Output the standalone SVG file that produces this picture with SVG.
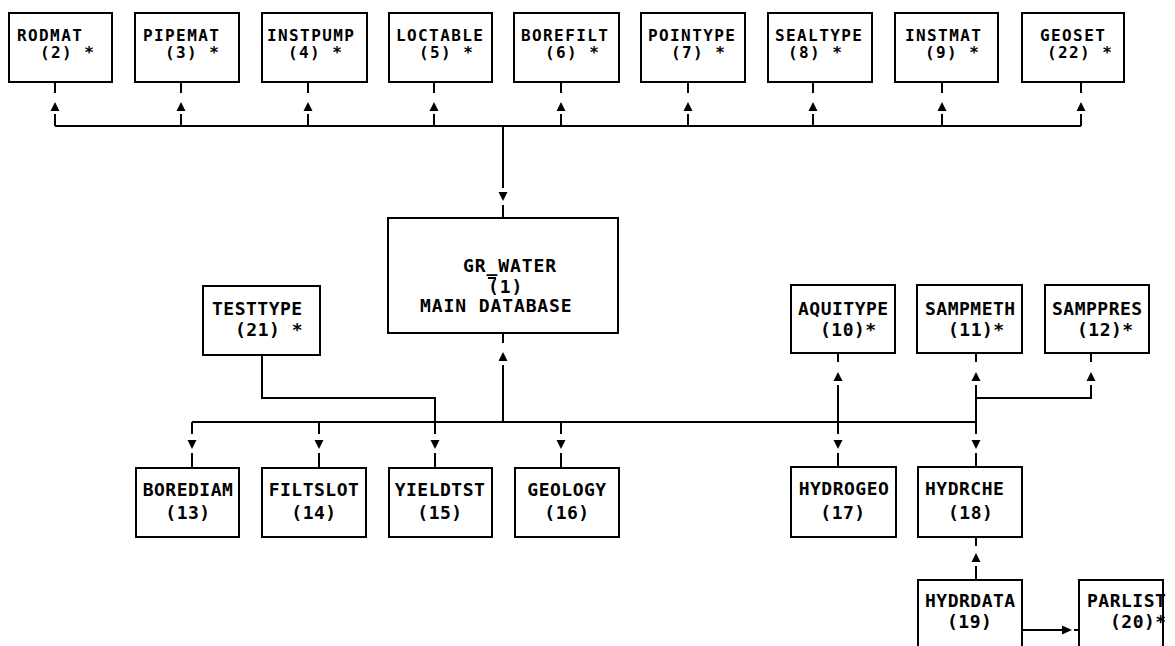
<svg xmlns="http://www.w3.org/2000/svg" width="1175" height="646" viewBox="0 0 1175 646">
<style>
rect{fill:#fff;stroke:#000;stroke-width:2}
.c line,.c polyline{stroke:#000;stroke-width:2;fill:none}
text{font-family:"DejaVu Sans Mono","Liberation Mono",monospace;font-weight:bold;fill:#000}
.t{font-size:16px;letter-spacing:1.4px}
.b{font-size:18px;letter-spacing:0.5px}
.m{font-size:18px;letter-spacing:0.9px}
.mid{text-anchor:middle}
</style>
<defs>
<path id="tu" d="M0,0 L-4.5,9 L4.5,9 Z" fill="#000"/>
<path id="td" d="M0,0 L-4.5,-9 L4.5,-9 Z" fill="#000"/>
<path id="tr" d="M0,0 L-10,-4.5 L-10,4.5 Z" fill="#000"/>
</defs>
<rect x="0" y="0" width="1175" height="646" style="fill:#fff;stroke:none"/>
<g class="c" id="connectors">
<line x1="55" y1="126" x2="1081" y2="126"/>
<line x1="55" y1="82" x2="55" y2="93"/><use href="#tu" x="55" y="102"/><line x1="55" y1="114" x2="55" y2="126"/>
<line x1="181" y1="82" x2="181" y2="93"/><use href="#tu" x="181" y="102"/><line x1="181" y1="114" x2="181" y2="126"/>
<line x1="308" y1="82" x2="308" y2="93"/><use href="#tu" x="308" y="102"/><line x1="308" y1="114" x2="308" y2="126"/>
<line x1="434" y1="82" x2="434" y2="93"/><use href="#tu" x="434" y="102"/><line x1="434" y1="114" x2="434" y2="126"/>
<line x1="561" y1="82" x2="561" y2="93"/><use href="#tu" x="561" y="102"/><line x1="561" y1="114" x2="561" y2="126"/>
<line x1="688" y1="82" x2="688" y2="93"/><use href="#tu" x="688" y="102"/><line x1="688" y1="114" x2="688" y2="126"/>
<line x1="813" y1="82" x2="813" y2="93"/><use href="#tu" x="813" y="102"/><line x1="813" y1="114" x2="813" y2="126"/>
<line x1="942" y1="82" x2="942" y2="93"/><use href="#tu" x="942" y="102"/><line x1="942" y1="114" x2="942" y2="126"/>
<line x1="1081" y1="82" x2="1081" y2="93"/><use href="#tu" x="1081" y="102"/><line x1="1081" y1="114" x2="1081" y2="126"/>
<line x1="503" y1="126" x2="503" y2="188"/><use href="#td" x="503" y="201"/><line x1="503" y1="205" x2="503" y2="218"/>
<line x1="503" y1="333" x2="503" y2="343"/><use href="#tu" x="503" y="352"/><line x1="503" y1="365" x2="503" y2="422"/>
<line x1="192" y1="422" x2="976" y2="422"/>
<polyline points="262,355 262,398 435,398 435,422"/>
<line x1="192" y1="422" x2="192" y2="434"/><use href="#td" x="192" y="449"/><line x1="192" y1="453" x2="192" y2="468"/>
<line x1="319" y1="422" x2="319" y2="434"/><use href="#td" x="319" y="449"/><line x1="319" y1="453" x2="319" y2="468"/>
<line x1="435" y1="422" x2="435" y2="434"/><use href="#td" x="435" y="449"/><line x1="435" y1="453" x2="435" y2="468"/>
<line x1="561" y1="422" x2="561" y2="434"/><use href="#td" x="561" y="449"/><line x1="561" y1="453" x2="561" y2="468"/>
<line x1="838" y1="422" x2="838" y2="434"/><use href="#td" x="838" y="449"/><line x1="838" y1="453" x2="838" y2="467"/>
<line x1="976" y1="422" x2="976" y2="434"/><use href="#td" x="976" y="449"/><line x1="976" y1="453" x2="976" y2="467"/>
<line x1="838" y1="353" x2="838" y2="362"/><use href="#tu" x="838" y="372"/><line x1="838" y1="385" x2="838" y2="422"/>
<line x1="976" y1="353" x2="976" y2="362"/><use href="#tu" x="976" y="372"/><line x1="976" y1="385" x2="976" y2="422"/>
<line x1="1091" y1="353" x2="1091" y2="362"/><use href="#tu" x="1091" y="372"/><polyline points="1091,385 1091,398 976,398"/>
<line x1="976" y1="537" x2="976" y2="546"/><use href="#tu" x="976" y="553"/><line x1="976" y1="566" x2="976" y2="580"/>
<line x1="1022" y1="630" x2="1063" y2="630"/><use href="#tr" x="1072" y="630"/><line x1="1074" y1="630" x2="1079" y2="630"/>
</g>
<g id="rodmat"><rect x="9" y="13" width="103" height="69"/><text class="t" x="17" y="41">RODMAT</text><text class="t" x="40" y="58">(2) *</text></g>
<g id="pipemat"><rect x="135" y="13" width="104" height="69"/><text class="t" x="143" y="41">PIPEMAT</text><text class="t" x="165" y="58">(3) *</text></g>
<g id="instpump"><rect x="262" y="13" width="105" height="69"/><text class="t" x="267" y="41">INSTPUMP</text><text class="t" x="288" y="58">(4) *</text></g>
<g id="loctable"><rect x="389" y="13" width="103" height="69"/><text class="t" x="396" y="41">LOCTABLE</text><text class="t" x="419" y="58">(5) *</text></g>
<g id="borefilt"><rect x="514" y="13" width="105" height="69"/><text class="t" x="521" y="41">BOREFILT</text><text class="t" x="545" y="58">(6) *</text></g>
<g id="pointype"><rect x="641" y="13" width="104" height="69"/><text class="t" x="648" y="41">POINTYPE</text><text class="t" x="671" y="58">(7) *</text></g>
<g id="sealtype"><rect x="768" y="13" width="104" height="69"/><text class="t" x="775" y="41">SEALTYPE</text><text class="t" x="788" y="58">(8) *</text></g>
<g id="instmat"><rect x="895" y="13" width="103" height="69"/><text class="t" x="905" y="41">INSTMAT</text><text class="t" x="925" y="58">(9) *</text></g>
<g id="geoset"><rect x="1022" y="13" width="102" height="69"/><text class="t" x="1040" y="41">GEOSET</text><text class="t" x="1047" y="58">(22) *</text></g>
<g id="gr_water"><rect x="388" y="218" width="230" height="115"/><text class="m" x="463" y="272">GR_WATER</text><line x1="488" y1="278" x2="496" y2="278" stroke="#000" stroke-width="2"/><text class="m" x="488" y="293">(1)</text><text class="m" x="420" y="312">MAIN DATABASE</text></g>
<g id="testtype"><rect x="203" y="286" width="117" height="69"/><text class="b" x="212" y="315">TESTTYPE</text><text class="b" x="235" y="336">(21) *</text></g>
<g id="aquitype"><rect x="791" y="285" width="104" height="68"/><text class="b" x="798" y="315">AQUITYPE</text><text class="b" x="820" y="336">(10)*</text></g>
<g id="sampmeth"><rect x="917" y="285" width="105" height="68"/><text class="b" x="925" y="315">SAMPMETH</text><text class="b" x="948" y="336">(11)*</text></g>
<g id="samppres"><rect x="1045" y="285" width="104" height="68"/><text class="b" x="1052" y="315">SAMPPRES</text><text class="b" x="1077" y="336">(12)*</text></g>
<g id="borediam"><rect x="136" y="468" width="103" height="69"/><text class="b mid" x="188" y="496">BOREDIAM</text><text class="b mid" x="188" y="519">(13)</text></g>
<g id="filtslot"><rect x="262" y="468" width="104" height="69"/><text class="b mid" x="314" y="496">FILTSLOT</text><text class="b mid" x="314" y="519">(14)</text></g>
<g id="yieldtst"><rect x="389" y="468" width="103" height="69"/><text class="b mid" x="440" y="496">YIELDTST</text><text class="b mid" x="440" y="519">(15)</text></g>
<g id="geology"><rect x="515" y="468" width="104" height="69"/><text class="b mid" x="567" y="496">GEOLOGY</text><text class="b mid" x="567" y="519">(16)</text></g>
<g id="hydrogeo"><rect x="791" y="467" width="105" height="70"/><text class="b mid" x="844" y="495">HYDROGEO</text><text class="b mid" x="843" y="519">(17)</text></g>
<g id="hydrche"><rect x="918" y="467" width="104" height="70"/><text class="b" x="925" y="495">HYDRCHE</text><text class="b" x="948" y="519">(18)</text></g>
<g id="hydrdata"><rect x="918" y="580" width="104" height="80"/><text class="b" x="925" y="607">HYDRDATA</text><text class="b" x="947" y="628">(19)</text></g>
<g id="parlist"><rect x="1079" y="580" width="84" height="80"/><text class="b" x="1087" y="607">PARLIST</text><text class="b" x="1110" y="628">(20)*</text></g>
</svg>
